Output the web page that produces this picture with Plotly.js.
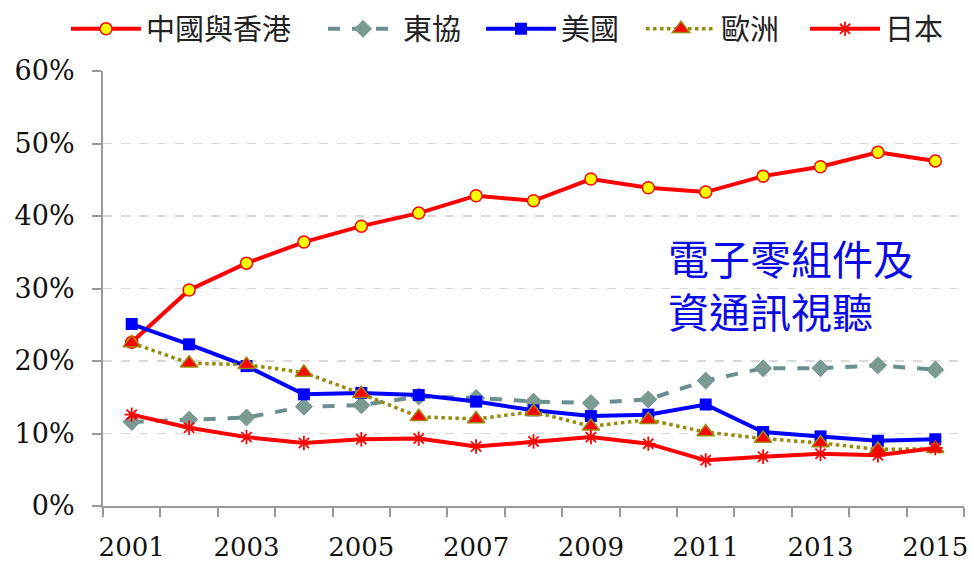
<!DOCTYPE html>
<html>
<head>
<meta charset="utf-8">
<script src="https://cdn.plot.ly/plotly-3.0.1.min.js"></script>
<style>html,body{margin:0;padding:0;background:#fff;}#chart{width:974px;height:561px;}</style>
</head>
<body>
<div id="chart"></div>
<script>
const years = [2001,2002,2003,2004,2005,2006,2007,2008,2009,2010,2011,2012,2013,2014,2015];
const tickYears = [2001,2003,2005,2007,2009,2011,2013,2015];
const chinaHK = [22.6,29.8,33.5,36.4,38.6,40.4,42.8,42.1,45.1,43.9,43.3,45.5,46.8,48.8,47.6];
const asean   = [11.6,11.9,12.2,13.7,13.9,15.1,14.9,14.4,14.2,14.7,17.3,19.0,19.0,19.4,18.8];
const usa     = [25.1,22.3,19.3,15.4,15.6,15.3,14.4,13.2,12.4,12.6,14.0,10.2,9.6,9.0,9.2];
const europe  = [22.5,19.7,19.5,18.4,15.5,12.3,12.0,13.0,11.0,11.9,10.2,9.3,8.7,7.8,7.9];
const japan   = [12.6,10.8,9.5,8.7,9.2,9.3,8.2,8.9,9.5,8.6,6.3,6.8,7.2,7.0,8.0];
const yTicks = [0,10,20,30,40,50,60];
const names = ['中國與香港','東協','美國','歐洲','日本'];
const noteLines = ['電子零組件及','資通訊視聽'];

const cjk = '"Noto Sans CJK TC", "Noto Sans CJK SC", sans-serif';
const serif = '"DejaVu Serif", "Liberation Serif", serif';

const traces = [
  {x: years, y: chinaHK, name: names[0], mode: 'lines+markers', legend: 'legend',
   line: {color: '#FF0000', width: 4},
   marker: {symbol: 'circle', size: 12, color: '#FFFF00', line: {color: '#FF0000', width: 1.5}}},
  {x: years, y: asean, name: names[1], mode: 'lines+markers', legend: 'legend2',
   line: {color: '#6A8F8E', width: 4, dash: 'dash'},
   marker: {symbol: 'diamond', size: 13, color: '#7A9A92', line: {color: '#6A8F8E', width: 1}}},
  {x: years, y: usa, name: names[2], mode: 'lines+markers', legend: 'legend3',
   line: {color: '#0000FF', width: 4},
   marker: {symbol: 'square', size: 12, color: '#0000FF'}},
  {x: years, y: europe, name: names[3], mode: 'lines+markers', legend: 'legend4',
   line: {color: '#9A8A0A', width: 3.5, dash: 'dot'},
   marker: {symbol: 'triangle-up', size: 15, color: '#FF0000', line: {color: '#9A8A0A', width: 1.5}}},
  {x: years, y: japan, name: names[4], mode: 'lines+markers', legend: 'legend5',
   line: {color: '#FF0000', width: 4},
   marker: {symbol: 'asterisk-open', size: 12, color: '#FF0000', line: {color: '#FF0000', width: 1.8}}}
];

function leg(px) {
  return {orientation: 'h', x: px / 974, xanchor: 'left', xref: 'container',
          y: 1 - 29 / 561, yref: 'container', yanchor: 'middle',
          bgcolor: 'rgba(0,0,0,0)', borderwidth: 0, itemwidth: 70,
          font: {family: cjk, size: 29, color: '#222'}};
}

const layout = {
  width: 974, height: 561,
  margin: {l: 103, r: 10, t: 71, b: 55},
  paper_bgcolor: '#fff', plot_bgcolor: '#fff',
  showlegend: true,
  legend: leg(66), legend2: leg(323), legend3: leg(481), legend4: leg(641), legend5: leg(805),
  xaxis: {
    range: [2000.5, 2015.5], tickvals: tickYears, ticktext: tickYears.map(String),
    ticks: '', showgrid: false, zeroline: false,
    showline: true, linecolor: '#999', linewidth: 2,
    tickfont: {family: serif, size: 26, color: '#111'},
    ticklabelstandoff: 17,
    minor: {ticks: 'outside', tick0: 2000.5, dtick: 1, ticklen: 9, tickcolor: '#999', tickwidth: 2, showgrid: false}
  },
  yaxis: {
    range: [0, 60], tickvals: yTicks, ticktext: yTicks.map(v => v + '%'),
    ticks: 'outside', ticklen: 9, tickcolor: '#999', tickwidth: 2,
    showline: true, linecolor: '#999', linewidth: 2, zeroline: false,
    showgrid: true, gridcolor: '#D9D9D9', griddash: 'dash', gridwidth: 1.5,
    tickfont: {family: serif, size: 27, color: '#111'},
    ticklabelstandoff: 12
  },
  annotations: [
    {text: noteLines[0], xref: 'paper', yref: 'paper', x: 0.654, y: (506 - 257) / 435,
     xanchor: 'left', yanchor: 'middle', showarrow: false,
     font: {family: cjk, size: 41, color: '#0A0AE6'}},
    {text: noteLines[1], xref: 'paper', yref: 'paper', x: 0.654, y: (506 - 310) / 435,
     xanchor: 'left', yanchor: 'middle', showarrow: false,
     font: {family: cjk, size: 41, color: '#0A0AE6'}}
  ]
};

Plotly.newPlot('chart', traces, layout, {displayModeBar: false, staticPlot: true});
</script>
</body>
</html>
